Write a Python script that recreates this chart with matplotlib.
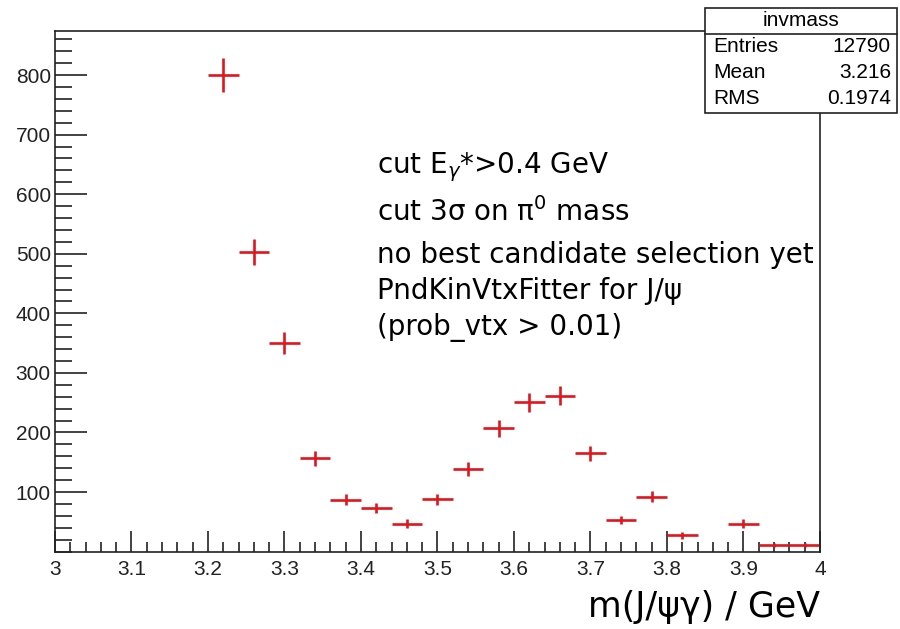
import matplotlib
matplotlib.use("Agg")
import matplotlib.pyplot as plt
import numpy as np
from matplotlib.ticker import MultipleLocator
from matplotlib.patches import Rectangle

# histogram "invmass": bin centres (width 0.04) and counts
bin_centers = [3.22, 3.26, 3.30, 3.34, 3.38, 3.42, 3.46, 3.50, 3.54, 3.58,
               3.62, 3.66, 3.70, 3.74, 3.78, 3.82, 3.90, 3.94, 3.98]
counts = [800, 503, 350, 157, 87, 73, 47, 88, 138, 207,
          251, 262, 165, 53, 92, 27, 47, 11, 11]
bin_width = 0.04

stats_labels = ["Entries", "Mean", "RMS"]
stats_values = ["12790", "3.216", "0.1974"]
notes = ["cut E$_{\\gamma}$*>0.4 GeV",
         "cut 3\u03c3 on \u03c0$^{0}$ mass",
         "no best candidate selection yet",
         "PndKinVtxFitter for J/\u03c8",
         "(prob_vtx > 0.01)"]
note_y = [167, 212, 255, 291, 327]

plt.rcParams['font.family'] = ['Liberation Sans', 'DejaVu Sans']
plt.rcParams['mathtext.fontset'] = 'dejavusans'

fig = plt.figure(figsize=(9, 6.29), dpi=100)
ax = fig.add_axes([0.0611, 0.1231, 0.85, 0.8276])

yerr = np.sqrt(np.array(counts, dtype=float))
ax.errorbar(bin_centers, counts, xerr=bin_width / 2, yerr=yerr, fmt='none',
            ecolor='#e0161e', elinewidth=1.9, capsize=0)

ax.set_xlim(3, 4)
ax.set_ylim(0, 874)
ax.xaxis.set_minor_locator(MultipleLocator(0.02))
ax.yaxis.set_minor_locator(MultipleLocator(20))
ax.set_yticks([100, 200, 300, 400, 500, 600, 700, 800])
ax.set_xticks([3, 3.1, 3.2, 3.3, 3.4, 3.5, 3.6, 3.7, 3.8, 3.9, 4])
ax.set_xticklabels(["3", "3.1", "3.2", "3.3", "3.4", "3.5", "3.6", "3.7", "3.8", "3.9", "4"])
ax.tick_params(axis='both', which='both', direction='in', top=False, right=False,
               labelsize=15, colors='#222222', width=1.2)
ax.tick_params(axis='y', which='major', length=23, pad=3)
ax.tick_params(axis='y', which='minor', length=12)
ax.tick_params(axis='x', which='major', length=15, pad=6)
ax.tick_params(axis='x', which='minor', length=7)
for s in ax.spines.values():
    s.set_linewidth(1.2)
    s.set_color('#222222')

ax.set_xlabel("m(J/\u03c8\u03b3) / GeV", fontsize=25, family=['DejaVu Sans'],
              loc='right', labelpad=8)

for line, yy in zip(notes, note_y):
    fig.text(377 / 900, 1 - yy / 629, line, fontsize=20,
             family=['DejaVu Sans'], va='center', ha='left')

# stats box
bx0, bx1, by0, by1 = 705 / 900, 897 / 900, 1 - 113 / 629, 1 - 8 / 629
fig.patches.append(Rectangle((bx0, by0), bx1 - bx0, by1 - by0, transform=fig.transFigure,
                             facecolor='white', edgecolor='#222222', lw=1.2, zorder=5))
hy = 1 - 34 / 629
fig.add_artist(plt.Line2D([bx0, bx1], [hy, hy], transform=fig.transFigure,
                          color='#222222', lw=1.2, zorder=6))
fig.text((bx0 + bx1) / 2, 1 - 21 / 629, "invmass", fontsize=15, ha='center',
         va='center', zorder=7)
for i, (lab, val) in enumerate(zip(stats_labels, stats_values)):
    yy = 1 - (47 + 25.5 * i) / 629
    fig.text(bx0 + 8 / 900, yy, lab, fontsize=15, ha='left', va='center', zorder=7)
    fig.text(bx1 - 6 / 900, yy, val, fontsize=15, ha='right', va='center', zorder=7)

fig.savefig("out.png", dpi=100)
